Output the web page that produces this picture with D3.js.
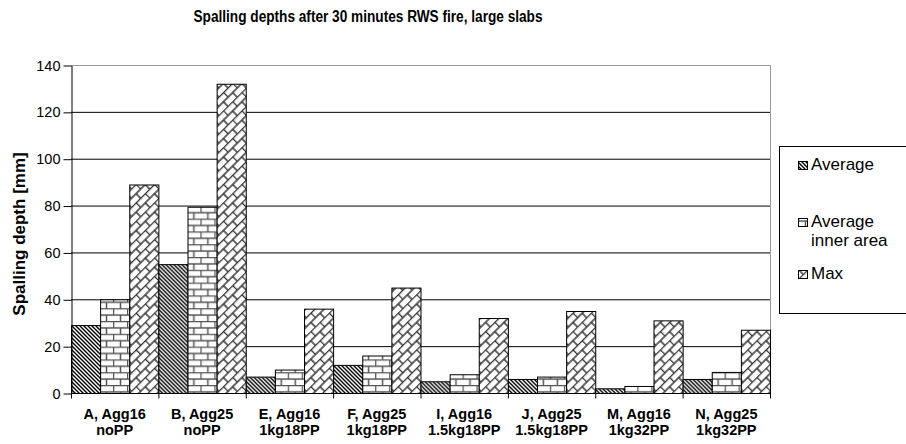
<!DOCTYPE html>
<html>
<head>
<meta charset="utf-8">
<script src="https://cdn.jsdelivr.net/npm/d3@7"></script>
<style>
  body { margin: 0; background: #fff; }
  svg { font-family: "Liberation Sans", Arial, sans-serif; }
</style>
</head>
<body>
<svg id="chart" width="906" height="444"></svg>
<script>
// data
const categories = [
  ["A, Agg16", "noPP"],
  ["B, Agg25", "noPP"],
  ["E, Agg16", "1kg18PP"],
  ["F, Agg25", "1kg18PP"],
  ["I,  Agg16", "1.5kg18PP"],
  ["J, Agg25", "1.5kg18PP"],
  ["M, Agg16", "1kg32PP"],
  ["N, Agg25", "1kg32PP"]
];
const seriesNames = ["Average", "Average inner area", "Max"];
const average = [29, 55, 7, 12, 5, 6, 2, 6];
const averageInner = [40, 79.5, 10, 16, 8, 7, 3, 9];
const maxDepth = [89, 132, 36, 45, 32, 35, 31, 27];
const yTicks = [0, 20, 40, 60, 80, 100, 120, 140];

const series = [average, averageInner, maxDepth];

const svg = d3.select("#chart");
const margin = { left: 71, right: 136, top: 65, bottom: 51 };
const width = 906 - margin.left - margin.right;
const height = 444 - margin.top - margin.bottom;

// hatch patterns (excel style b/w fills)
const defs = svg.append("defs");

const pAvg = defs.append("pattern")
  .attr("id", "pat0")
  .attr("patternUnits", "userSpaceOnUse")
  .attr("width", 4).attr("height", 4);
pAvg.append("rect").attr("width", 4).attr("height", 4).attr("fill", "#fff");
pAvg.append("path")
  .attr("d", "M-1,-1L5,5M-1,3L1,5M3,-1L5,1")
  .attr("stroke", "#000").attr("stroke-width", 1.4);

function brick(id, w, h, transform, col) {
  const p = defs.append("pattern")
    .attr("id", id)
    .attr("patternUnits", "userSpaceOnUse")
    .attr("width", w).attr("height", h * 2);
  if (transform) p.attr("patternTransform", transform);
  p.append("rect").attr("width", w).attr("height", h * 2).attr("fill", "#fff");
  p.append("path")
    .attr("d", `M0,0.5H${w}M0,${h + 0.5}H${w}M0.5,0V${h}M${w / 2 + 0.5},${h}V${h * 2}`)
    .attr("stroke", col).attr("stroke-width", 1.5).attr("fill", "none");
}
brick("pat1", 14, 6.4, null, "#555");
brick("pat2", 13, 6.5, "rotate(-45)", "#333");

const x = d3.scaleBand()
  .domain(d3.range(categories.length))
  .range([0, width])
  .paddingInner(0).paddingOuter(0);

const xSub = d3.scaleBand()
  .domain(d3.range(series.length))
  .range([0, x.bandwidth()]);

const y = d3.scaleLinear().domain([0, 140]).range([height, 0]);

const g = svg.append("g").attr("transform", `translate(${margin.left},${margin.top})`);

// grid lines
g.append("g")
  .selectAll("line")
  .data(yTicks.slice(1, -1))
  .join("line")
  .attr("x1", 0).attr("x2", width)
  .attr("y1", d => y(d) + 0.5).attr("y2", d => y(d) + 0.5)
  .attr("stroke", "#000").attr("stroke-width", 1);

// top and right border of plot area
g.append("path")
  .attr("d", `M0,0.5H${width + 0.5}V${height}`)
  .attr("fill", "none")
  .attr("stroke", "#999");

// bars
const groups = g.append("g")
  .selectAll("g")
  .data(categories)
  .join("g")
  .attr("transform", (d, i) => `translate(${x(i)},0)`);

groups.selectAll("rect")
  .data((d, i) => series.map((s, k) => ({ k, v: s[i] })))
  .join("rect")
  .attr("x", d => xSub(d.k) + 0.5)
  .attr("y", d => y(d.v) + 0.5)
  .attr("width", xSub.bandwidth())
  .attr("height", d => y(0) - y(d.v))
  .attr("fill", d => `url(#pat${d.k})`)
  .attr("stroke", "#000")
  .attr("stroke-width", 1);

// y axis
const yAxis = g.append("g")
  .attr("transform", "translate(0.5,0.5)")
  .call(d3.axisLeft(y).tickValues(yTicks).tickSize(8).tickPadding(3).tickSizeOuter(0));
yAxis.select(".domain").attr("stroke", "#000");
yAxis.selectAll("text").attr("font-size", 14.5).attr("fill", "#000");

// x axis: ticks at category boundaries
const xAxis = g.append("g").attr("transform", `translate(0,${height + 0.5})`);
xAxis.append("line")
  .attr("x1", 0).attr("x2", width)
  .attr("stroke", "#000");
xAxis.selectAll("line.tick")
  .data(d3.range(categories.length + 1))
  .join("line")
  .attr("class", "tick")
  .attr("x1", i => (i < categories.length ? x(i) : width) + 0.5)
  .attr("x2", i => (i < categories.length ? x(i) : width) + 0.5)
  .attr("y1", 0).attr("y2", 5)
  .attr("stroke", "#000");

const xLabels = xAxis.selectAll("text")
  .data(categories)
  .join("text")
  .attr("text-anchor", "middle")
  .attr("font-weight", "bold")
  .attr("font-size", 14.5)
  .attr("transform", (d, i) => `translate(${x(i) + x.bandwidth() / 2},0)`);
xLabels.append("tspan").attr("x", 0).attr("y", 25).text(d => d[0]);
xLabels.append("tspan").attr("x", 0).attr("y", 41).text(d => d[1]);

// y title
svg.append("text")
  .attr("transform", `translate(25,234) rotate(-90)`)
  .attr("text-anchor", "middle")
  .attr("font-weight", "bold")
  .attr("font-size", 17)
  .text("Spalling depth [mm]");

// title
svg.append("text")
  .attr("x", 368).attr("y", 22)
  .attr("text-anchor", "middle")
  .attr("font-family", "'Liberation Sans Narrow', 'Liberation Sans', sans-serif")
  .attr("font-weight", "bold")
  .attr("font-size", 16)
  .attr("textLength", 349)
  .attr("lengthAdjust", "spacingAndGlyphs")
  .text("Spalling depths after 30 minutes RWS fire, large slabs");

// legend
const legend = svg.append("g").attr("transform", "translate(779,146)");
legend.append("rect")
  .attr("x", 0.5).attr("y", 0.5)
  .attr("width", 140).attr("height", 167)
  .attr("fill", "#fff").attr("stroke", "#000");

const legendRows = [
  { k: 0, lines: ["Average"], y: 24 },
  { k: 1, lines: ["Average", "inner area"], y: 81 },
  { k: 2, lines: ["Max"], y: 133 }
];
const li = legend.selectAll("g.item")
  .data(legendRows)
  .join("g")
  .attr("class", "item")
  .attr("transform", d => `translate(19,${d.y})`);
li.append("rect")
  .attr("x", 0.5).attr("y", -8.5)
  .attr("width", 9).attr("height", 8)
  .attr("fill", d => `url(#pat${d.k})`)
  .attr("stroke", "#000");
li.append("text")
  .attr("font-size", 17)
  .selectAll("tspan")
  .data(d => d.lines)
  .join("tspan")
  .attr("x", 13)
  .attr("dy", (d, i) => i === 0 ? 0 : 19)
  .text(d => d);
</script>
</body>
</html>
